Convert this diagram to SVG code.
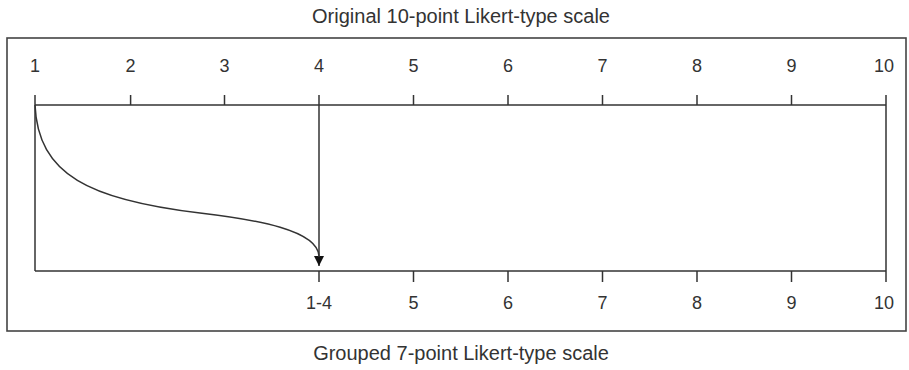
<svg xmlns="http://www.w3.org/2000/svg" width="909" height="370" viewBox="0 0 909 370">
<style>
.ln{stroke:#333;stroke-width:1.5;fill:none}
.frame{stroke:#444;stroke-width:1.6;fill:none}
.lbl{font-family:"Liberation Sans",Arial,sans-serif;font-size:18px;fill:#333;text-anchor:middle}
.ttl{font-family:"Liberation Sans",Arial,sans-serif;font-size:20px;fill:#333;text-anchor:middle}
</style>
<defs>
<marker id="ah" viewBox="0 0 10 10" refX="10" refY="5" markerWidth="10" markerHeight="10" markerUnits="userSpaceOnUse" orient="auto">
<path d="M0,0 L10,5 L0,10 Z" fill="#111"/>
</marker>
</defs>
<rect id="frame" class="frame" x="7" y="38" width="899" height="293"/>
<text id="title-top" class="ttl" x="461" y="23">Original 10-point Likert-type scale</text>
<text id="title-bottom" class="ttl" x="461" y="360">Grouped 7-point Likert-type scale</text>
<g id="top-scale">
<line class="ln" x1="35" y1="105" x2="886" y2="105"/>
<g class="ln">
<line x1="35" y1="95" x2="35" y2="105"/>
<line x1="130.6" y1="95" x2="130.6" y2="105"/>
<line x1="224.5" y1="95" x2="224.5" y2="105"/>
<line x1="319" y1="95" x2="319" y2="105"/>
<line x1="413.5" y1="95" x2="413.5" y2="105"/>
<line x1="508" y1="95" x2="508" y2="105"/>
<line x1="602.5" y1="95" x2="602.5" y2="105"/>
<line x1="697" y1="95" x2="697" y2="105"/>
<line x1="791.5" y1="95" x2="791.5" y2="105"/>
<line x1="886" y1="95" x2="886" y2="105"/>
</g>
<text class="lbl" x="35" y="72">1</text>
<text class="lbl" x="130.6" y="72">2</text>
<text class="lbl" x="224.5" y="72">3</text>
<text class="lbl" x="319" y="72">4</text>
<text class="lbl" x="413.5" y="72">5</text>
<text class="lbl" x="508" y="72">6</text>
<text class="lbl" x="602.5" y="72">7</text>
<text class="lbl" x="697" y="72">8</text>
<text class="lbl" x="791.5" y="72">9</text>
<text class="lbl" x="884" y="72">10</text>
</g>
<g id="bottom-scale">
<line class="ln" x1="35" y1="271" x2="886" y2="271"/>
<g class="ln">
<line x1="319" y1="271" x2="319" y2="282"/>
<line x1="413.5" y1="271" x2="413.5" y2="282"/>
<line x1="508" y1="271" x2="508" y2="282"/>
<line x1="602.5" y1="271" x2="602.5" y2="282"/>
<line x1="697" y1="271" x2="697" y2="282"/>
<line x1="791.5" y1="271" x2="791.5" y2="282"/>
<line x1="886" y1="271" x2="886" y2="282"/>
</g>
<text class="lbl" x="319" y="309">1-4</text>
<text class="lbl" x="413.5" y="309">5</text>
<text class="lbl" x="508" y="309">6</text>
<text class="lbl" x="602.5" y="309">7</text>
<text class="lbl" x="697" y="309">8</text>
<text class="lbl" x="791.5" y="309">9</text>
<text class="lbl" x="884" y="309">10</text>
</g>
<g id="connectors">
<line class="ln" x1="35" y1="105" x2="35" y2="271"/>
<line class="ln" x1="886" y1="105" x2="886" y2="271"/>
<line class="ln" x1="319" y1="105" x2="319" y2="266" marker-end="url(#ah)"/>
<path class="ln" d="M35,105 C38,175 90,200 200,213 C255,219.5 319,230 319,257"/>
</g>
</svg>
